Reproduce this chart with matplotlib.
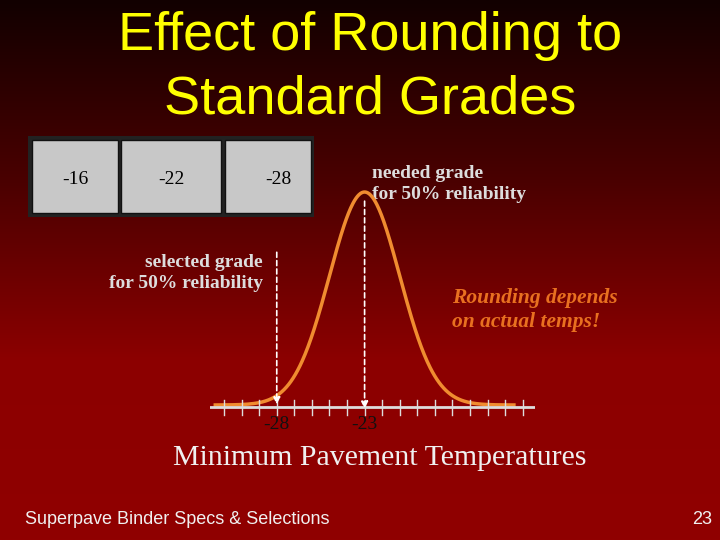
import numpy as np
import matplotlib
matplotlib.use("Agg")
import matplotlib.pyplot as plt
from matplotlib.colors import LinearSegmentedColormap
from matplotlib.patches import Rectangle

grades = ["-16", "-22", "-28"]
needed_mean = -23
selected = -28
sigma = 2.0
tick_vals = list(range(-31, -13))
axis_labels = ["-28", "-23"]

W, H = 720, 540
fig = plt.figure(figsize=(7.2, 5.4), dpi=100)
bg = fig.add_axes([0, 0, 1, 1])
bg.set_xlim(0, W); bg.set_ylim(H, 0); bg.axis("off")
cmap = LinearSegmentedColormap.from_list("bg", ["#120000", "#4a0000", "#8c0000", "#900000"])
grad = np.linspace(0, 1, 256).reshape(-1, 1)
bg.imshow(grad, cmap=cmap, extent=[0, W, H, 0], aspect="auto", zorder=0)

bg.text(370, 36, "Effect of Rounding to", color="#ffff00", fontsize=39, ha="center", va="center", family="Liberation Sans")
bg.text(370, 99, "Standard Grades", color="#ffff00", fontsize=39, ha="center", va="center", family="Liberation Sans")

# grade boxes
bg.add_patch(Rectangle((28, 136), 286, 81, facecolor="#222222", zorder=1))
boxes = [(32, 86), (121, 100), (225, 86)]
for (x0, w), g in zip(boxes, grades):
    bg.add_patch(Rectangle((x0, 140), w, 73, facecolor="#c8c8c8", edgecolor="#111111", lw=1, zorder=2))
    bg.text(x0 + w / 2 + (0 if g != "-28" else 10), 179, g, fontsize=14, family="Liberation Serif", ha="center", va="center", zorder=3)

serif = dict(family="Liberation Serif", fontweight="bold", fontsize=14, color="#dddddd")
bg.text(372, 184, "needed grade\nfor 50% reliability", ha="left", va="center", linespacing=1.3, **serif)
bg.text(263, 273, "selected grade\nfor 50% reliability", ha="right", va="center", linespacing=1.3, **serif)
bg.text(452, 310, "Rounding depends\non actual temps!", ha="left", va="center", color="#e87020",
        family="Liberation Serif", fontweight="bold", style="italic", fontsize=15.5, linespacing=1.3)
bg.text(380, 458, "Minimum Pavement Temperatures", ha="center", va="center", color="#f0f0f0",
        family="Liberation Serif", fontsize=21.5)
bg.text(25, 519, "Superpave Binder Specs & Selections", ha="left", va="center", color="#f0f0f0",
        family="Liberation Sans", fontsize=13)
bg.text(712, 519, "23", ha="right", va="center", color="#f0f0f0", family="Liberation Sans", fontsize=13)

# curve axes: x 210-535 px, y 180-420 px
ax = fig.add_axes([210 / W, 1 - 420 / H, 325 / W, 240 / H])
ax.set_xlim(-31.8, -13.3)
ax.set_ylim(-15 / 213, 1 + 12 / 213)
ax.axis("off")
ax.patch.set_alpha(0)
x = np.linspace(-31.5, -14.5, 400)
y = np.exp(-0.5 * ((x - needed_mean) / sigma) ** 2)
ax.plot(x, y, color="#f08c30", lw=2.5)
ax.axhline(-0.01, color="#dddddd", lw=2, xmin=0, xmax=1)
for t in tick_vals:
    ax.plot([t, t], [-0.045, 0.025], color="#dddddd", lw=1)
ax.annotate("", xy=(selected, -0.01), xytext=(selected, 0.73),
            arrowprops=dict(arrowstyle="-|>", color="white", ls=(0, (3, 2)), lw=1.2))
ax.annotate("", xy=(needed_mean, -0.03), xytext=(needed_mean, 0.97),
            arrowprops=dict(arrowstyle="-|>", color="white", ls=(0, (3, 2)), lw=1.2))
for v in axis_labels:
    ax.text(float(v), -0.05, v, ha="center", va="top", color="#111111", family="Liberation Serif", fontsize=14)

fig.savefig("out.png", dpi=100)
